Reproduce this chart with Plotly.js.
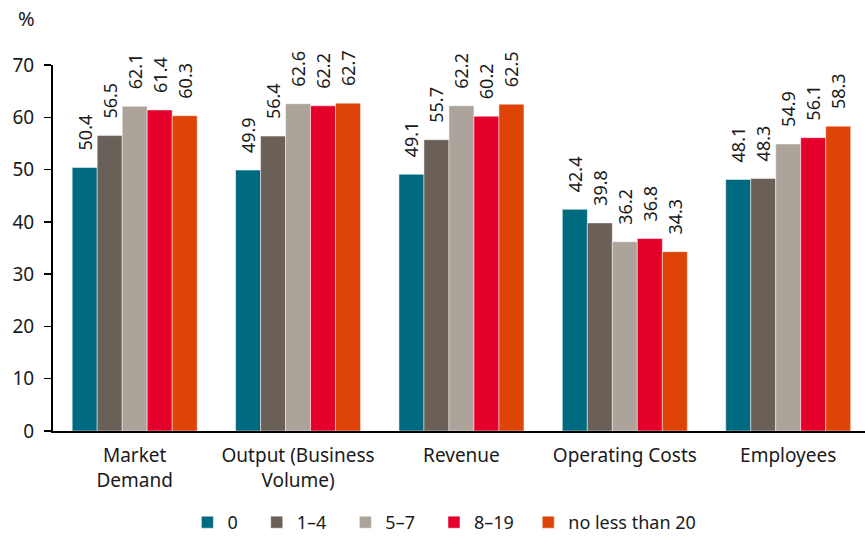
<!DOCTYPE html>
<html>
<head>
<meta charset="utf-8">
<script src="https://cdn.plot.ly/plotly-3.0.1.min.js"></script>
<style>html,body{margin:0;padding:0;background:#fff;}#chart{width:865px;height:541px;}</style>
</head>
<body>
<div id="chart"></div>
<script>
const categories = ["Market<br>Demand", "Output (Business<br>Volume)", "Revenue", "Operating Costs", "Employees"];
const seriesNames = ["0", "1\u20134", "5\u20137", "8\u201319", "no less than 20"];
const s0 = [50.4, 49.9, 49.1, 42.4, 48.1];
const s1 = [56.5, 56.4, 55.7, 39.8, 48.3];
const s2 = [62.1, 62.6, 62.2, 36.2, 54.9];
const s3 = [61.4, 62.2, 60.2, 36.8, 56.1];
const s4 = [60.3, 62.7, 62.5, 34.3, 58.3];
const yTicks = [0, 10, 20, 30, 40, 50, 60, 70];

const colors = ["#006a80", "#6b6057", "#aca49a", "#e4002b", "#de4307"];
const allSeries = [s0, s1, s2, s3, s4];
const FONT = "Noto Sans, Open Sans, sans-serif";
const NB = "\u00a0";
const labelPad = NB + NB + NB;
const legendPad = [NB + NB + NB, NB + NB + NB, NB + NB + NB, NB + NB, ""];

const traces = allSeries.map((vals, i) => ({
  type: "bar",
  name: seriesNames[i] + legendPad[i],
  x: categories,
  y: vals,
  marker: {color: colors[i], line: {color: "rgba(255,255,255,0.6)", width: 0.8}},
  text: vals.map(v => labelPad + v.toFixed(1)),
  textposition: "outside",
  textangle: -90,
  constraintext: "none",
  textfont: {family: FONT, size: 18, color: "#1a1a1a"},
  cliponaxis: false,
  hoverinfo: "none"
}));

const layout = {
  width: 865, height: 541,
  margin: {l: 53, r: 0, t: 65, b: 108},
  paper_bgcolor: "#fff", plot_bgcolor: "#fff",
  font: {family: FONT, size: 18, color: "#1a1a1a"},
  barmode: "group",
  bargap: 0.235,
  bargroupgap: 0,
  showlegend: true,
  legend: {orientation: "h", x: 0.482, xanchor: "center", y: -0.2, yanchor: "top",
           font: {family: FONT, size: 18, color: "#1a1a1a"}, itemwidth: 30, traceorder: "normal"},
  xaxis: {
    type: "category", range: [-0.5, 4.47],
    showline: true, linecolor: "#000", linewidth: 2,
    ticks: "", showgrid: false, zeroline: false,
    ticklabelstandoff: 6,
    tickfont: {family: FONT, size: 19, color: "#1a1a1a"}
  },
  yaxis: {
    range: [0, 70], tickvals: yTicks, ticktext: yTicks.map(String),
    showline: true, linecolor: "#000", linewidth: 2,
    ticks: "outside", ticklen: 7, tickwidth: 1.5, tickcolor: "#000",
    ticklabelstandoff: 6,
    showgrid: false, zeroline: false,
    tickfont: {family: FONT, size: 19, color: "#1a1a1a"}
  },
  annotations: [{
    text: "%", xref: "paper", yref: "paper", x: -0.046, y: 1.085,
    xanchor: "left", yanchor: "bottom", showarrow: false,
    font: {family: FONT, size: 20, color: "#1a1a1a"}
  }]
};

Plotly.newPlot("chart", traces, layout, {displayModeBar: false, staticPlot: true});
</script>
</body>
</html>
